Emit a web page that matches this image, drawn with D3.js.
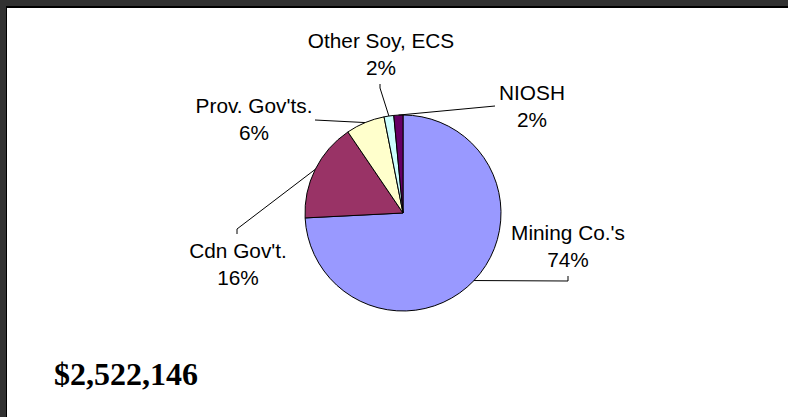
<!DOCTYPE html>
<html>
<head>
<meta charset="utf-8">
<script src="https://cdn.jsdelivr.net/npm/d3@7"></script>
<style>
  html, body { margin: 0; padding: 0; background: #323232; }
  #chart { width: 788px; height: 417px; }
</style>
</head>
<body>
<div id="chart"></div>
<script>
// Funding sources, share of total (%), clockwise from 12 o'clock
const categories = ['Mining Co.\'s', 'Cdn Gov\'t.', 'Prov. Gov\'ts.', 'Other Soy, ECS', 'NIOSH'];
const shares = [74.2, 16.3, 6.4, 1.6, 1.5];
const colors = ['#9999FF', '#993366', '#FFFFCC', '#CCFFFF', '#660066'];
const totalLabel = '$2,522,146';

// Label placement relative to pie centre (layout only)
const labelLayout = [
  { tx: 165, ty: 27, elbow: [165, 68], end: [165, 63] },
  { tx: -165, ty: 45, elbow: [-166, 16], end: [-166, 21] },
  { tx: -149, ty: -100, elbow: null, end: [-88, -93] },
  { tx: -22, ty: -165, elbow: [-23, -125], end: [-23, -129] },
  { tx: 129, ty: -113, elbow: null, end: [92, -107] }
];

const width = 788;
const height = 417;
const cx = 403;
const cy = 213;
const radius = 98;

const svg = d3.select('#chart')
  .append('svg')
  .attr('width', width)
  .attr('height', height);

// Frame: dark band top and left, white sheet
svg.append('rect')
  .attr('width', width).attr('height', height)
  .attr('fill', '#323232');
svg.append('rect')
  .attr('x', 6).attr('y', 6)
  .attr('width', width - 6).attr('height', height - 6)
  .attr('fill', '#000');
svg.append('rect')
  .attr('x', 7).attr('y', 8)
  .attr('width', width - 7).attr('height', height - 8)
  .attr('fill', '#fff');

const g = svg.append('g')
  .attr('transform', `translate(${cx},${cy})`);

const data = categories.map((c, i) => ({ label: c, value: shares[i], color: colors[i], layout: labelLayout[i] }));

const pie = d3.pie()
  .value(d => d.value)
  .sort(null);

const arc = d3.arc()
  .innerRadius(0)
  .outerRadius(radius);

const edgeArc = d3.arc()
  .innerRadius(radius)
  .outerRadius(radius);

const arcs = pie(data);
const total = d3.sum(shares);

// Slices
g.selectAll('.slice')
  .data(arcs)
  .enter()
  .append('path')
  .attr('class', 'slice')
  .attr('d', arc)
  .attr('fill', d => d.data.color)
  .attr('stroke', '#000')
  .attr('stroke-width', 1);

// Leader lines
g.selectAll('.leader')
  .data(arcs)
  .enter()
  .append('polyline')
  .attr('class', 'leader')
  .attr('points', d => {
    const l = d.data.layout;
    const pts = [edgeArc.centroid(d)];
    if (l.elbow) pts.push(l.elbow);
    pts.push(l.end);
    return pts.map(p => p.join(',')).join(' ');
  })
  .attr('fill', 'none')
  .attr('stroke', '#000')
  .attr('stroke-width', 1);

// Labels
const labels = g.selectAll('.label')
  .data(arcs)
  .enter()
  .append('text')
  .attr('class', 'label')
  .attr('text-anchor', 'middle')
  .style('font-family', '"Liberation Sans", Arial, sans-serif')
  .style('font-size', '20.8px')
  .attr('fill', '#000');

labels.append('tspan')
  .attr('x', d => d.data.layout.tx)
  .attr('y', d => d.data.layout.ty)
  .text(d => d.data.label);

labels.append('tspan')
  .attr('x', d => d.data.layout.tx)
  .attr('y', d => d.data.layout.ty + 27)
  .text(d => `${Math.round(d.data.value * 100 / total)}%`);

// Total amount
svg.append('text')
  .attr('x', 54)
  .attr('y', 385)
  .style('font-family', '"Liberation Serif", "Times New Roman", serif')
  .style('font-size', '32px')
  .style('font-weight', 'bold')
  .attr('fill', '#000')
  .text(totalLabel);
</script>
</body>
</html>
